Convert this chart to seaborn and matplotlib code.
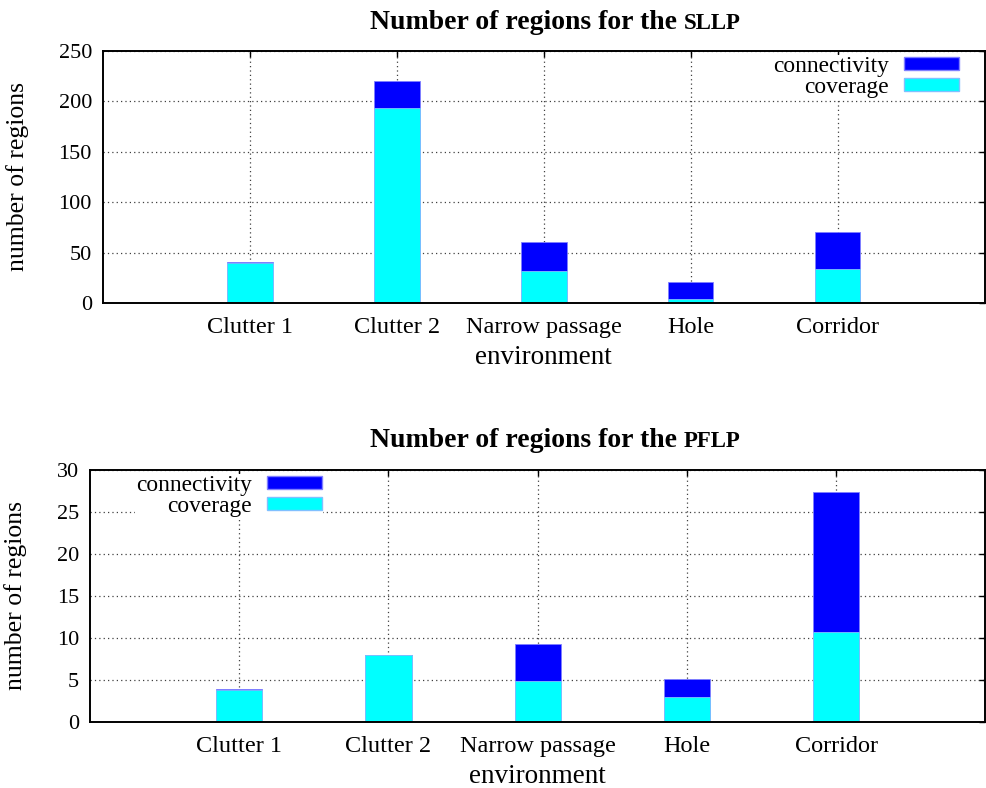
import numpy as np
import matplotlib
matplotlib.use("Agg")
import matplotlib.pyplot as plt
from matplotlib.patches import Patch
import seaborn as sns

# data
environments = ["Clutter 1", "Clutter 2", "Narrow passage", "Hole", "Corridor"]

sllp_coverage = [39.5, 193.5, 31.5, 4.0, 33.5]
sllp_connectivity = [1.0, 26.5, 29.0, 16.5, 36.5]

pflp_coverage = [3.8, 7.9, 4.9, 2.9, 10.7]
pflp_connectivity = [0.07, 0.07, 4.35, 2.15, 16.7]

sllp_ticks = [0, 50, 100, 150, 200, 250]
pflp_ticks = [0, 5, 10, 15, 20, 25, 30]

BLUE = "#0000ff"
CYAN = "#00ffff"

sns.set_style("white")
plt.rcParams["font.family"] = ["Liberation Serif", "DejaVu Serif"]
plt.rcParams["text.color"] = "black"
plt.rcParams["axes.labelcolor"] = "black"

FS = 16


def draw_title(fig, y, words, caps):
    # bold title with a small-caps tail, built from two texts
    r = fig.canvas.get_renderer()
    t1 = fig.text(0, y, words, fontsize=20, fontweight="bold", ha="left", va="baseline")
    t2 = fig.text(0, y, caps, fontsize=16.5, fontweight="bold", ha="left", va="baseline")
    w1 = t1.get_window_extent(r).width / fig.dpi / fig.get_figwidth()
    w2 = t2.get_window_extent(r).width / fig.dpi / fig.get_figwidth()
    x0 = 0.563 - (w1 + w2) / 2
    t1.set_x(x0)
    t2.set_x(x0 + w1)


def stacked(ax, coverage, connectivity, ticks, legend_loc, anchor):
    totals = [a + b for a, b in zip(coverage, connectivity)]
    sns.barplot(x=environments, y=totals, color=BLUE, saturation=1, width=0.31,
                edgecolor="#8080ff", linewidth=0.6, ax=ax, zorder=2)
    sns.barplot(x=environments, y=coverage, color=CYAN, saturation=1, width=0.31,
                edgecolor="#80c0ff", linewidth=0.6, ax=ax, zorder=3)
    ax.set_xlim(-1, 5)
    ax.set_ylim(ticks[0], ticks[-1])
    ax.set_yticks(ticks)
    ax.grid(True, color="0.25", linestyle=(0, (1, 2.5)), linewidth=0.9)
    ax.set_axisbelow(True)
    ax.tick_params(direction="in", length=4, width=1, top=True, right=True,
                   labelsize=FS, pad=8, colors="black")
    ax.tick_params(axis="x", labelsize=17.5, pad=10)
    for s in ax.spines.values():
        s.set_color("black")
        s.set_linewidth(1.4)
        s.set_zorder(5)
    ax.set_xlabel("environment", fontsize=19.5, labelpad=5)
    ax.set_ylabel("number of regions", fontsize=18.5, labelpad=21)
    handles = [Patch(facecolor=BLUE, edgecolor="#8080ff"), Patch(facecolor=CYAN, edgecolor="#80c0ff")]
    leg = ax.legend(handles, ["connectivity", "coverage"], loc=legend_loc, bbox_to_anchor=anchor,
                    markerfirst=False, frameon=True, fancybox=False, framealpha=1,
                    edgecolor="none", facecolor="white", fontsize=16.8, handlelength=2.35,
                    handleheight=0.5, handletextpad=0.65, labelspacing=0.0,
                    borderpad=0.05, borderaxespad=0)
    leg.set_zorder(4)


fig = plt.figure(figsize=(9.86, 7.88), dpi=100)
ax1 = fig.add_axes([0.1045, 0.6155, 0.894, 0.32])
ax2 = fig.add_axes([0.0913, 0.0841, 0.908, 0.3195])

stacked(ax1, sllp_coverage, sllp_connectivity, sllp_ticks, "upper right", (0.972, 0.985))
stacked(ax2, pflp_coverage, pflp_connectivity, pflp_ticks, "upper left", (0.05, 0.985))

draw_title(fig, 1 - 29 / 788, "Number of regions for the ", "SLLP")
draw_title(fig, 1 - 447 / 788, "Number of regions for the ", "PFLP")

fig.savefig("out.png", dpi=100)
